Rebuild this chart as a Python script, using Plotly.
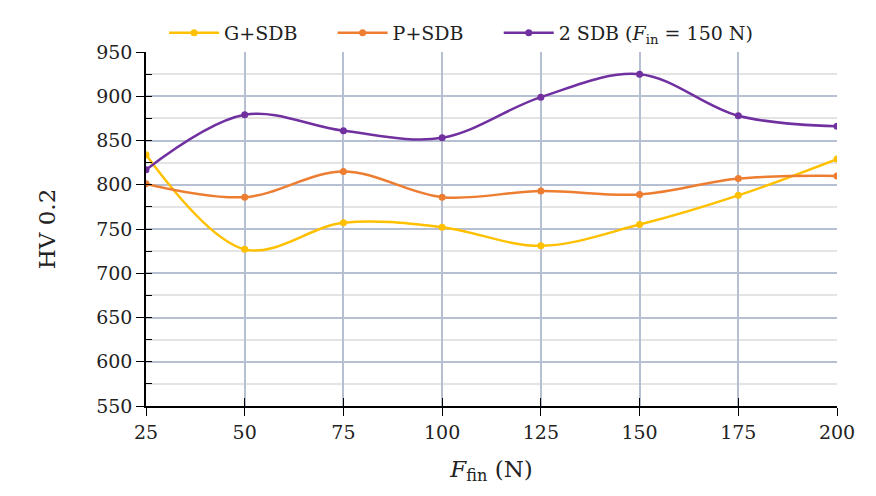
import plotly.graph_objects as go

force = [25, 50, 75, 100, 125, 150, 175, 200]
g_sdb = [834, 727, 757, 752, 731, 755, 788, 829]
p_sdb = [801, 786, 815, 786, 793, 789, 807, 810]
sdb2 = [817, 879, 861, 853, 899, 925, 878, 866]
PAD = "\u00a0" * 5
names = ["G+SDB" + PAD, "P+SDB" + PAD, "2 SDB (<i>F</i><sub>in</sub> = 150 N)"]
colors = ["#FFC000", "#ED7D31", "#7030A0"]

FONT = "DejaVu Serif"
fig = go.Figure()
for ys, nm, c in zip([g_sdb, p_sdb, sdb2], names, colors):
    fig.add_trace(go.Scatter(
        x=force, y=ys, name=nm, mode="lines+markers",
        line=dict(color=c, width=2.5, shape="spline", smoothing=1.0),
        marker=dict(color=c, size=7),
    ))
# invisible trace to host overlay axes (inside tick halves)
fig.add_trace(go.Scatter(x=[force[0]], y=[sdb2[0]], xaxis="x2", yaxis="y2",
                         mode="markers", marker=dict(opacity=0), showlegend=False,
                         hoverinfo="skip"))

grid_major = "#B6C0D2"
fig.update_layout(
    width=876, height=496,
    margin=dict(l=146, r=39, t=52, b=90),
    paper_bgcolor="white", plot_bgcolor="white",
    font=dict(family=FONT, size=19, color="#222222"),
    showlegend=True,
    legend=dict(orientation="h", x=0.456, xanchor="center", y=1.0, yanchor="bottom",
                font=dict(family=FONT, size=19, color="#222222"),
                itemwidth=50, traceorder="normal", tracegroupgap=0),
    xaxis=dict(range=[25, 200], dtick=25, tick0=25, showgrid=True, gridcolor=grid_major,
               gridwidth=1.5, zeroline=False, showline=True, linecolor="black", linewidth=1.5,
               ticks="outside", ticklen=8, tickcolor="black", tickwidth=1.2,
               title=dict(text="<i>F</i><sub>fin</sub> (N)", standoff=19),
               tickfont=dict(size=19)),
    yaxis=dict(range=[550, 950], dtick=50, tick0=550, showgrid=True, gridcolor=grid_major,
               gridwidth=1.5, zeroline=False, showline=True, linecolor="black", linewidth=1.5,
               ticks="outside", ticklen=8, tickcolor="black", tickwidth=1.2,
               minor=dict(dtick=25, showgrid=True, gridcolor="#E4E4E4", gridwidth=1.5,
                          ticks=""),
               title=dict(text="HV 0.2", standoff=34),
               tickfont=dict(size=19)),
    xaxis2=dict(range=[25, 200], overlaying="x", anchor="y2", dtick=25, tick0=25,
                showgrid=False, zeroline=False, showticklabels=False, showline=False,
                ticks="inside", ticklen=8, tickcolor="black", tickwidth=1.2),
    yaxis2=dict(range=[550, 950], overlaying="y", anchor="x2", dtick=25, tick0=550,
                showgrid=False, zeroline=False, showticklabels=False, showline=False,
                ticks="inside", ticklen=6, tickcolor="black", tickwidth=1.2),
)
fig.write_html("out.html")
